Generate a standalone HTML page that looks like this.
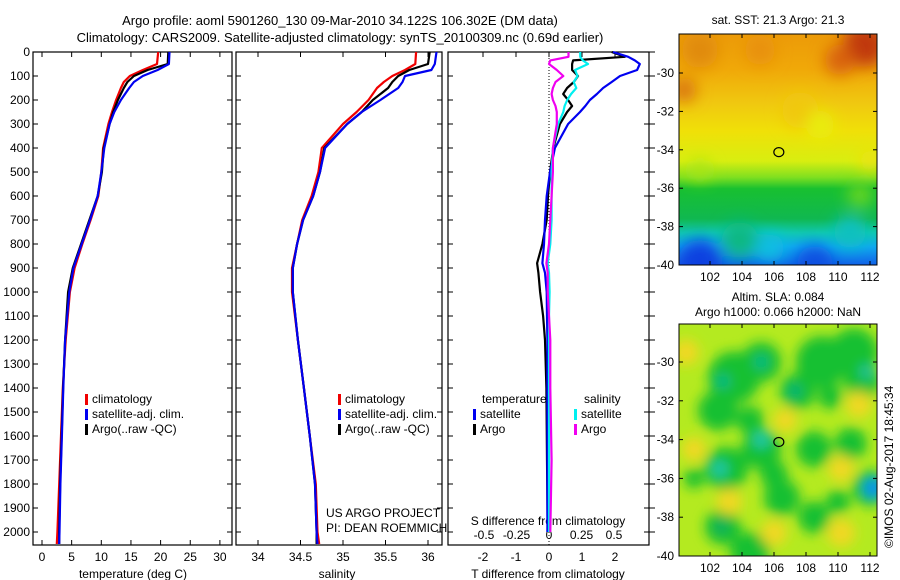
<!DOCTYPE html>
<html><head><meta charset="utf-8"><style>
body{margin:0;background:#fff;}
svg{display:block;font-family:"Liberation Sans",sans-serif;}
</style></head><body>
<svg id="c" width="900" height="580" viewBox="0 0 900 580">
<defs>
<filter id="bl" x="-50%" y="-50%" width="200%" height="200%"><feGaussianBlur stdDeviation="8"/></filter>
<filter id="bl2" x="-50%" y="-50%" width="200%" height="200%"><feGaussianBlur stdDeviation="6"/></filter>
<clipPath id="cm1"><rect x="679" y="34" width="198" height="231"/></clipPath>
<clipPath id="cm2"><rect x="679" y="324" width="198" height="232"/></clipPath>
<linearGradient id="sst" x1="0" y1="0" x2="0" y2="1">
<stop offset="0" stop-color="#ec9a08"/><stop offset="0.15" stop-color="#f0a808"/>
<stop offset="0.3" stop-color="#f0c810"/><stop offset="0.42" stop-color="#f0e008"/>
<stop offset="0.55" stop-color="#d8ee10"/><stop offset="0.62" stop-color="#80e020"/>
<stop offset="0.67" stop-color="#18c030"/><stop offset="0.8" stop-color="#10b850"/>
<stop offset="0.86" stop-color="#10c8b0"/><stop offset="0.92" stop-color="#10a8f0"/>
<stop offset="1" stop-color="#1060e8"/>
</linearGradient>
</defs>
<g id="maps"></g>
<g id="panels"></g>
<text x="340" y="25" font-size="13" text-anchor="middle">Argo profile: aoml 5901260_130 09-Mar-2010 34.122S 106.302E (DM data)</text>
<text x="340" y="42" font-size="13" text-anchor="middle">Climatology: CARS2009. Satellite-adjusted climatology: synTS_20100309.nc (0.69d earlier)</text>
<text x="778" y="24" font-size="12" text-anchor="middle">sat. SST: 21.3 Argo: 21.3</text>
<text x="778" y="301" font-size="12" text-anchor="middle">Altim. SLA: 0.084</text>
<text x="778" y="316" font-size="12" text-anchor="middle">Argo h1000: 0.066 h2000: NaN</text>
<text transform="translate(893,548) rotate(-90)" font-size="12">©IMOS 02-Aug-2017 18:45:34</text>
<text x="326" y="517" font-size="12">US ARGO PROJECT</text>
<text x="326" y="532" font-size="12">PI: DEAN ROEMMICH</text>
</svg>
<script>
const depths=[0,50,75,100,125,150,200,250,300,400,500,600,700,800,900,1000,1200,1400,1600,1800,2000,2050];
const tClim=[19.6,19.4,17,14.8,13.8,13.3,12.5,11.8,11.2,10.3,10.0,9.5,8.2,6.8,5.5,4.7,4.0,3.5,3.2,2.9,2.6,2.5];
const tSat=[21.5,21.4,19.5,17,15.5,14.7,13.3,12.2,11.4,10.5,10.0,9.4,8.1,6.7,5.3,4.6,3.9,3.6,3.35,3.1,2.95,2.9];
const tArgo=[21.3,21.2,17.8,15.5,14.4,13.8,12.8,12.0,11.4,10.4,10.1,9.4,8.0,6.6,5.2,4.4,3.9,3.55,3.3,3.05,2.9,2.9];
const sClim=[35.86,35.85,35.73,35.58,35.48,35.40,35.30,35.16,35.0,34.75,34.71,34.63,34.52,34.46,34.4,34.4,34.47,34.54,34.61,34.68,34.7,34.72];
const sSat=[36.1,36.08,36.04,35.73,35.70,35.65,35.44,35.22,35.05,34.79,34.73,34.65,34.53,34.46,34.41,34.41,34.47,34.54,34.61,34.67,34.69,34.70];
const sArgo=[36.02,36.0,35.78,35.65,35.58,35.53,35.35,35.22,35.05,34.78,34.73,34.65,34.53,34.46,34.41,34.41,34.47,34.54,34.61,34.67,34.69,34.69];
const dDepths=[0,20,35,50,75,100,125,150,175,200,225,250,300,400,500,600,700,800,880,920,1000,1100,1200,1400,1700,2000];
const dtSat=[1.94,2.4,2.6,2.75,2.67,2.15,1.9,1.64,1.45,1.24,1.1,0.94,0.58,0.18,0.03,-0.07,-0.12,-0.15,-0.2,-0.12,-0.07,-0.06,-0.05,-0.05,-0.05,-0.05];
const dtArgo=[1.9,2.3,0.73,0.7,0.7,0.88,0.75,0.55,0.43,0.58,0.7,0.55,0.33,0.13,0.03,-0.03,-0.07,-0.2,-0.36,-0.32,-0.27,-0.18,-0.12,-0.08,-0.06,-0.04];
const dsSat=[0.24,0.24,0.26,0.3,0.2,0.22,0.19,0.21,0.17,0.14,0.12,0.11,0.07,0.03,0.02,0.02,0.02,0.01,-0.01,0.0,0.005,0.0,0.0,0.0,0.0,0.0];
const dsArgo=[0.15,0.15,0.01,0.0,0.06,0.11,0.05,0.03,0.02,0.03,0.05,0.06,0.06,0.03,0.03,0.02,0.01,0.0,-0.02,-0.01,-0.01,0.0,0.01,0.01,0.02,0.01];
const depthTicks=[0,100,200,300,400,500,600,700,800,900,1000,1100,1200,1300,1400,1500,1600,1700,1800,1900,2000];
const tTicks=[0,5,10,15,20,25,30];
const sTicks=[34,34.5,35,35.5,36];
const sTickLabels=["34","34.5","35","35.5","36"];
const dtTicks=[-2,-1,0,1,2];
const dsTicks=[-0.5,-0.25,0,0.25,0.5];
const dsTickLabels=["-0.5","-0.25","0","0.25","0.5"];
const lonTicks=[102,104,106,108,110,112];
const latTicks1=[-30,-32,-34,-36,-38,-40];
const latTicks2=[-30,-32,-34,-36,-38,-40];

const NS='http://www.w3.org/2000/svg';
const panels=document.getElementById('panels'), maps=document.getElementById('maps');
function mk(tag,attrs,parent){const e=document.createElementNS(NS,tag);for(const k in attrs)e.setAttribute(k,attrs[k]);(parent||panels).appendChild(e);return e;}
const Y0=52, YS=0.24, YB=545;
const yD=d=>Y0+YS*d;
const xT=t=>42+5.93*t;
const xS=s=>258+85*(s-34);
const xDT=v=>549+33*v;
const xDS=v=>549+130*v;

function line(xs,xf,vals,deps,color,name,w){
  const pts=vals.map((v,i)=>xf(v).toFixed(1)+','+yD(deps[i]).toFixed(1)).join(' ');
  const p=mk('polyline',{points:pts,fill:'none',stroke:color,'stroke-width':w||2.2,'stroke-linejoin':'round'});
  
  
}
function box(x0,x1,name){
  const r=mk('rect',{x:x0,y:Y0,width:x1-x0,height:YB-Y0,fill:'none',stroke:'#000','stroke-width':1.2});
  
  
  depthTicks.forEach(d=>{mk('line',{x1:x0,x2:x0+5,y1:yD(d),y2:yD(d),stroke:'#000'});mk('line',{x1:x1,x2:x1-5,y1:yD(d),y2:yD(d),stroke:'#000'});});
}
function txt(x,y,s,anchor,name,size){const t=mk('text',{x:x,y:y,'font-size':size||12,'text-anchor':anchor||'middle'});t.textContent=s;
  
  return t;}

// panel 1
box(33,232,'temperature-panel');
depthTicks.forEach(d=>txt(30,yD(d)+4,String(d),'end','depth-tick-label'));
tTicks.forEach(t=>{mk('line',{x1:xT(t),x2:xT(t),y1:Y0,y2:Y0+5,stroke:'#000'});mk('line',{x1:xT(t),x2:xT(t),y1:YB,y2:YB-5,stroke:'#000'});txt(xT(t),561,String(t),'middle','temperature-tick-label');});
txt(133,578,'temperature (deg C)','middle','temperature-axis-title');
line(0,xT,tClim,depths,'#f00000','temperature-climatology-line');
line(0,xT,tArgo,depths,'#000','temperature-argo-line');
line(0,xT,tSat,depths,'#0000f0','temperature-satellite-line');
function legend(x,y,items,prefix){items.forEach((it,i)=>{const r=mk('rect',{x:x,y:y+i*15-9,width:3,height:11,fill:it[1]});
  
  
  txt(x+7,y+i*15,it[0],'start',prefix+'-label');});}
legend(85,403,[['climatology','#f00000'],['satellite-adj. clim.','#0000f0'],['Argo(..raw -QC)','#000']],'temperature-legend');

// panel 2
box(236,442,'salinity-panel');
sTicks.forEach((s,i)=>{mk('line',{x1:xS(s),x2:xS(s),y1:Y0,y2:Y0+5,stroke:'#000'});mk('line',{x1:xS(s),x2:xS(s),y1:YB,y2:YB-5,stroke:'#000'});txt(xS(s),561,sTickLabels[i],'middle','salinity-tick-label');});
txt(337,578,'salinity','middle','salinity-axis-title');
line(0,xS,sClim,depths,'#f00000','salinity-climatology-line');
line(0,xS,sArgo,depths,'#000','salinity-argo-line');
line(0,xS,sSat,depths,'#0000f0','salinity-satellite-line');
legend(338,403,[['climatology','#f00000'],['satellite-adj. clim.','#0000f0'],['Argo(..raw -QC)','#000']],'salinity-legend');

// panel 3
box(448,649,'difference-panel');
depthTicks.forEach(d=>mk('line',{x1:649,x2:655,y1:yD(d),y2:yD(d),stroke:'#000'}));
mk('line',{x1:549,x2:549,y1:Y0,y2:YB,stroke:'#000','stroke-dasharray':'1,2'});
dtTicks.forEach(v=>{mk('line',{x1:xDT(v),x2:xDT(v),y1:Y0,y2:Y0+5,stroke:'#000'});txt(xDT(v),561,String(v),'middle','t-difference-tick-label');});
dsTicks.forEach((v,i)=>txt(xDS(v),539,dsTickLabels[i],'middle','s-difference-tick-label'));
txt(548,578,'T difference from climatology','middle','t-difference-axis-title');
txt(548,525,'S difference from climatology','middle','s-difference-axis-title');
line(0,xDT,dtArgo,dDepths,'#000','t-diff-argo-line');
line(0,xDT,dtSat,dDepths,'#0000f0','t-diff-satellite-line');
line(0,xDS,dsSat,dDepths,'#00f0f0','s-diff-satellite-line');
line(0,xDS,dsArgo,dDepths,'#f000f0','s-diff-argo-line');
txt(482,403,'temperature','start','diff-legend-temperature-header');
txt(584,403,'salinity','start','diff-legend-salinity-header');
legend(473,418,[['satellite','#0000f0'],['Argo','#000']],'diff-legend-temperature');
legend(574,418,[['satellite','#00f0f0'],['Argo','#f000f0']],'diff-legend-salinity');

// maps
const xL=lon=>710+16*(lon-102);
const yL1=lat=>73+19.2*(-30-lat);
const yL2=lat=>362+19.4*(-30-lat);
const g1=mk('g',{'clip-path':'url(#cm1)'},maps);


mk('rect',{x:679,y:34,width:198,height:231,fill:'url(#sst)'},g1);
const b1=mk('g',{filter:'url(#bl)'},g1);
[[684,90,12,'#d87010'],[700,50,18,'#e08a10'],[760,50,15,'#e89010'],[865,45,22,'#c03808'],[840,60,15,'#d86010'],[800,110,18,'#f0c810'],[820,125,14,'#e8ee10'],[700,170,10,'#a8e418'],[860,195,12,'#70d820'],[740,240,18,'#10b880'],[850,232,16,'#10c0c0'],[700,262,22,'#1040e0'],[815,264,18,'#1050e0'],[770,248,14,'#10c0e0'],[870,160,10,'#f0e010']].forEach(c=>mk('circle',{cx:c[0],cy:c[1],r:c[2],fill:c[3]},b1));
const g2=mk('g',{'clip-path':'url(#cm2)'},maps);


mk('rect',{x:679,y:324,width:198,height:232,fill:'#b4ea20'},g2);
const b2=mk('g',{filter:'url(#bl2)'},g2);
// dark-green areas (lon,lat,r)
[[103.5,-30.8,26],[105.2,-30,20],[109,-30,26],[111,-29.5,24],[111.5,-31,18],[107.5,-31.5,18],[102.5,-32.5,20],[104.5,-33,14],[105.2,-34.5,20],[103,-35.5,22],[108.5,-34.5,18],[110.8,-34.2,16],[112,-36.5,18],[106.5,-37,18],[108.5,-38,16],[102.8,-38.5,18],[104.5,-39.8,20],[110,-37.2,12],[106,-35.8,14],[109.5,-31.8,12],[101,-36,10]].forEach(c=>mk('circle',{cx:xL(c[0]),cy:yL2(c[1]),r:c[2],fill:'#18c030'},b2));
// yellow
[[100.5,-29.5,13],[101,-34.5,12],[103.2,-37.2,13],[106.7,-33,12],[110.2,-35.5,13],[111.3,-32.2,13],[110.2,-38.8,14],[106,-38.8,13]].forEach(c=>mk('circle',{cx:xL(c[0]),cy:yL2(c[1]),r:c[2],fill:'#f0d820'},b2));
// teal / blue spots
[[102.8,-31,7,'#10b890'],[105.2,-30,7,'#10b890'],[105.2,-34,8,'#20c8b0'],[102.6,-35.5,8,'#20c8b0'],[112.2,-36.5,10,'#1090f0'],[111.8,-30.5,7,'#20c0a0'],[107.3,-31.5,7,'#10b080'],[102.7,-38.5,6,'#10a870']].forEach(c=>mk('circle',{cx:xL(c[0]),cy:yL2(c[1]),r:c[2],fill:c[3]},b2));
function mapAxes(y0,y1,yL,lats,pre){
  const r=mk('rect',{x:679,y:y0,width:198,height:y1-y0,fill:'none',stroke:'#000'},maps);
  
  
  lonTicks.forEach(l=>{mk('line',{x1:xL(l),x2:xL(l),y1:y1,y2:y1-4,stroke:'#000'},maps);mk('line',{x1:xL(l),x2:xL(l),y1:y0,y2:y0+4,stroke:'#000'},maps);const t=txt(xL(l),y1+16,String(l),'middle',pre+'-lon-tick-label');maps.appendChild(t);});
  lats.forEach(l=>{mk('line',{x1:679,x2:683,y1:yL(l),y2:yL(l),stroke:'#000'},maps);mk('line',{x1:877,x2:873,y1:yL(l),y2:yL(l),stroke:'#000'},maps);const t=txt(674,yL(l)+4,String(l),'end',pre+'-lat-tick-label');maps.appendChild(t);});
  const c=mk('ellipse',{cx:xL(106.302),cy:yL(-34.122),rx:5,ry:4.5,fill:'none',stroke:'#000','stroke-width':1.2},maps);
  
  
}
mapAxes(34,265,yL1,latTicks1,'sst-map');
mapAxes(324,556,yL2,latTicks2,'sla-map');
</script>
</body></html>
